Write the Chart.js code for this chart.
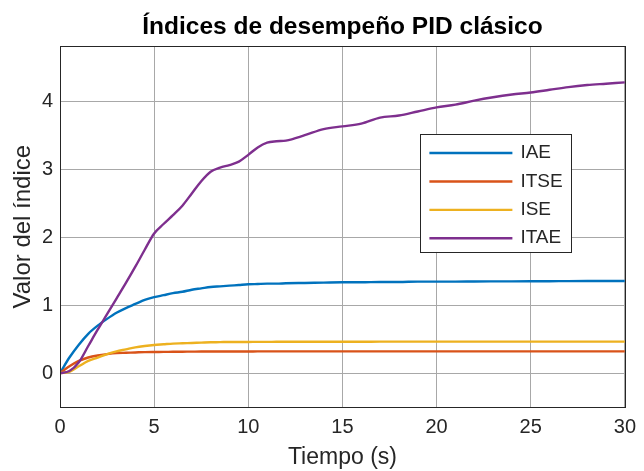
<!DOCTYPE html>
<html>
<head>
<meta charset="utf-8">
<script src="https://cdn.jsdelivr.net/npm/chart.js@4/dist/chart.umd.min.js"></script>
<style>
  html, body { margin: 0; padding: 0; background: #fff; }
  #wrap { width: 644px; height: 471px; }
</style>
</head>
<body>
<div id="wrap"><canvas id="idxChart" width="644" height="471"></canvas></div>
<script>
// ------------------------------------------------------------
// Datos: índices de desempeño acumulados vs tiempo
// ------------------------------------------------------------
const tiempo = [0, 0.5, 1, 1.5, 2, 2.5, 3, 3.5, 4, 4.5, 5, 5.5, 6, 6.5, 7, 7.5, 8, 8.5, 9, 9.5,
                10, 10.5, 11, 11.5, 12, 13, 14, 15, 16, 17, 18, 19, 20, 21, 22, 23, 24, 25, 26, 27, 28, 29, 30];

const iae  = [0, 0.23, 0.42, 0.58, 0.70, 0.80, 0.89, 0.96, 1.02, 1.08, 1.12, 1.15, 1.18, 1.20, 1.23, 1.25, 1.27, 1.28, 1.29, 1.30,
              1.31, 1.315, 1.32, 1.32, 1.325, 1.33, 1.335, 1.34, 1.34, 1.345, 1.345, 1.35, 1.35, 1.35, 1.352, 1.353, 1.354, 1.355, 1.356, 1.357, 1.358, 1.359, 1.36];
const itse = [0, 0.10, 0.18, 0.23, 0.26, 0.28, 0.295, 0.30, 0.305, 0.31, 0.312, 0.313, 0.315, 0.316, 0.317, 0.318, 0.318, 0.318, 0.319, 0.319,
              0.319, 0.32, 0.32, 0.32, 0.32, 0.32, 0.32, 0.32, 0.32, 0.32, 0.32, 0.32, 0.32, 0.32, 0.32, 0.32, 0.32, 0.32, 0.32, 0.32, 0.32, 0.32, 0.32];
const ise  = [0, 0.02, 0.10, 0.18, 0.23, 0.28, 0.32, 0.35, 0.38, 0.40, 0.415, 0.425, 0.435, 0.44, 0.445, 0.45, 0.455, 0.457, 0.46, 0.46,
              0.46, 0.461, 0.461, 0.462, 0.462, 0.462, 0.463, 0.463, 0.463, 0.464, 0.464, 0.464, 0.464, 0.465, 0.465, 0.465, 0.465, 0.465, 0.465, 0.465, 0.465, 0.465, 0.465];
const itae = [0, 0.03, 0.16, 0.40, 0.64, 0.87, 1.10, 1.33, 1.57, 1.82, 2.06, 2.20, 2.33, 2.47, 2.65, 2.83, 2.97, 3.03, 3.07, 3.12,
              3.22, 3.33, 3.40, 3.42, 3.43, 3.51, 3.60, 3.64, 3.68, 3.77, 3.80, 3.86, 3.92, 3.96, 4.02, 4.07, 4.11, 4.14, 4.18, 4.22, 4.25, 4.27, 4.29];

const xTicks = [0, 5, 10, 15, 20, 25, 30];
const yTicks = [0, 1, 2, 3, 4];

const FONT = '"Liberation Sans", Arial, Helvetica, sans-serif';
const AXIS_COLOR = '#262626';

const toPts = ys => tiempo.map((t, i) => ({ x: t, y: ys[i] }));

const mkSet = (label, ys, color, order) => ({
    label, data: toPts(ys), borderColor: color, backgroundColor: color,
    borderWidth: 2.4, pointRadius: 0, fill: false, cubicInterpolationMode: 'monotone', order
});

// Marco completo de los ejes (caja superior/derecha incluida)
const boxPlugin = {
    id: 'axesBox',
    afterDatasetsDraw(chart) {
        const { ctx, chartArea: a } = chart;
        ctx.save();
        ctx.strokeStyle = AXIS_COLOR;
        ctx.lineWidth = 1;
        ctx.strokeRect(Math.round(a.left) + 0.5, Math.round(a.top) + 0.5,
                       Math.round(a.right - a.left), Math.round(a.bottom - a.top));
        ctx.restore();
    }
};

// Leyenda dentro del área de trazado
const insideLegend = {
    id: 'insideLegend',
    afterDraw(chart) {
        const { ctx, chartArea: a } = chart;
        const w = a.right - a.left, h = a.bottom - a.top;
        const x0 = a.left + w * 0.638, x1 = a.left + w * 0.905;
        const y0 = a.top + h * 0.243, y1 = a.top + h * 0.57;
        ctx.save();
        ctx.fillStyle = '#fff';
        ctx.fillRect(x0, y0, x1 - x0, y1 - y0);
        ctx.strokeStyle = AXIS_COLOR;
        ctx.lineWidth = 1;
        ctx.strokeRect(Math.round(x0) + 0.5, Math.round(y0) + 0.5, Math.round(x1 - x0), Math.round(y1 - y0));
        ctx.font = '19px ' + FONT;
        ctx.textBaseline = 'middle';
        ctx.fillStyle = AXIS_COLOR;
        const step = 28.4;
        chart.data.datasets.forEach((ds, i) => {
            const y = y0 + 19 + i * step;
            ctx.strokeStyle = ds.borderColor;
            ctx.lineWidth = 2.4;
            ctx.beginPath();
            ctx.moveTo(x0 + 9, y);
            ctx.lineTo(x0 + 92, y);
            ctx.stroke();
            ctx.fillText(ds.label, x0 + 100, y);
        });
        ctx.restore();
    }
};

const ctx = document.getElementById('idxChart').getContext('2d');
const chart = new Chart(ctx, {
    type: 'line',
    data: {
        datasets: [
            mkSet('IAE',  iae,  '#0072BD', 4),
            mkSet('ITSE', itse, '#D95319', 3),
            mkSet('ISE',  ise,  '#EDB120', 2),
            mkSet('ITAE', itae, '#7E2F8E', 1)
        ]
    },
    options: {
        responsive: false,
        animation: false,
        layout: { padding: { right: 15, left: 0, top: 0, bottom: 0 } },
        plugins: {
            legend: { display: false },
            tooltip: { enabled: false },
            title: {
                display: true,
                fullSize: false,   // centrado sobre el área de trazado
                text: 'Índices de desempeño PID clásico',
                color: '#000',
                font: { family: FONT, size: 24.5, weight: 'bold' },
                padding: { top: 13, bottom: 4 }
            }
        },
        scales: {
            x: {
                type: 'linear', min: 0, max: 30,
                afterBuildTicks: s => { s.ticks = xTicks.map(v => ({ value: v })); },
                afterFit: s => { s.height = 64; },
                grid: { color: '#a8a8a8', drawTicks: false },
                border: { color: AXIS_COLOR },
                ticks: { color: AXIS_COLOR, font: { family: FONT, size: 20 }, padding: 8, maxRotation: 0 },
                title: { display: true, text: 'Tiempo (s)', color: AXIS_COLOR, font: { family: FONT, size: 23 }, padding: { top: 0, bottom: 0 } }
            },
            y: {
                type: 'linear', min: -0.5, max: 4.82,
                afterBuildTicks: s => { s.ticks = yTicks.map(v => ({ value: v })); },
                afterFit: s => { s.width = 60; },
                grid: { color: '#a8a8a8', drawTicks: false },
                border: { color: AXIS_COLOR },
                ticks: { color: AXIS_COLOR, font: { family: FONT, size: 20 }, padding: 7 },
                title: { display: true, text: 'Valor del índice', color: AXIS_COLOR, font: { family: FONT, size: 24 }, padding: { top: 9, bottom: 0 } }
            }
        }
    },
    plugins: [boxPlugin, insideLegend]
});
</script>
</body>
</html>
